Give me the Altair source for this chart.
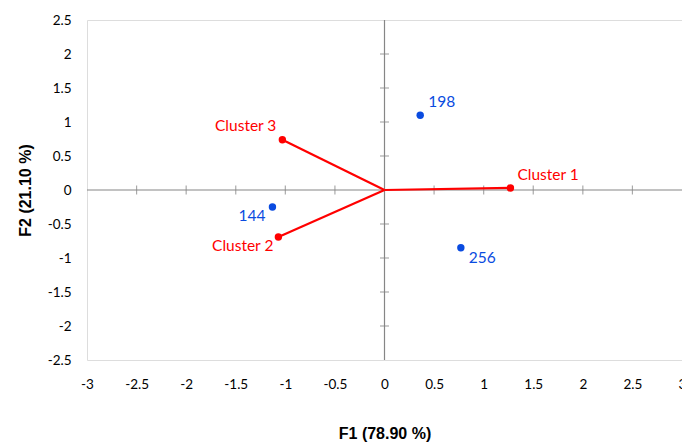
import altair as alt
import pandas as pd

# Observations (blue points)
obs_names = ["198", "256", "144"]
obs_x = [0.36, 0.77, -1.13]
obs_y = [1.10, -0.85, -0.25]

# Cluster vectors (red)
clu_names = ["Cluster 1", "Cluster 2", "Cluster 3"]
clu_x = [1.27, -1.07, -1.03]
clu_y = [0.03, -0.69, 0.74]

# Tick values
x_ticks = [-3, -2.5, -2, -1.5, -1, -0.5, 0, 0.5, 1, 1.5, 2, 2.5, 3]
y_ticks = [-2.5, -2, -1.5, -1, -0.5, 0, 0.5, 1, 1.5, 2, 2.5]

RED = "#ff0000"
BLUE = "#0a4be0"
GRAY = "#868686"
FONT = "Lato"

obs = pd.DataFrame({"name": obs_names, "x": obs_x, "y": obs_y})
clu = pd.DataFrame({"name": clu_names, "x": clu_x, "y": clu_y, "x0": 0.0, "y0": 0.0})
xt = pd.DataFrame({"x": [t for t in x_ticks if t not in (-3, 3, 0)], "y": 0.0})
yt = pd.DataFrame({"y": [t for t in y_ticks if t not in (-2.5, 2.5, 0)], "x": 0.0})

xscale = alt.Scale(domain=[-3, 3], nice=False, zero=False)
yscale = alt.Scale(domain=[-2.5, 2.5], nice=False, zero=False)

xaxis = alt.Axis(values=x_ticks, title="F1 (78.90 %)", grid=False, domain=False, ticks=False,
                 labelExpr="datum.value + ''",
                 labelPadding=17, labelFontSize=13.5, labelFont=FONT, labelColor="#000",
                 titleFont="Liberation Sans", titleFontSize=16, titleFontWeight="bold",
                 titleColor="#000", titlePadding=35, labelFlush=False, labelOverlap=False)
yaxis = alt.Axis(values=y_ticks, title="F2 (21.10 %)", grid=False, domain=False, ticks=False,
                 labelExpr="datum.value + ''",
                 labelPadding=16, labelFontSize=13.5, labelFont=FONT, labelColor="#000",
                 titleFont="Liberation Sans", titleFontSize=16, titleFontWeight="bold",
                 titleColor="#000", titlePadding=14, labelFlush=False, labelOverlap=False)

base_x = alt.X("x:Q", scale=xscale, axis=xaxis)
base_y = alt.Y("y:Q", scale=yscale, axis=yaxis)

# zero lines
hline = alt.Chart(pd.DataFrame({"x": [-3.0], "x2": [3.0], "y": [0.0]})).mark_rule(color=GRAY, strokeWidth=1.2).encode(
    x=base_x, x2="x2:Q", y=base_y)
vline = alt.Chart(pd.DataFrame({"y": [-2.5], "y2": [2.5], "x": [0.0]})).mark_rule(color=GRAY, strokeWidth=1.2).encode(
    x=base_x, y=base_y, y2="y2:Q")

xticks_m = alt.Chart(xt).mark_tick(orient="vertical", size=9, thickness=1.2, color=GRAY).encode(x=base_x, y=base_y)
yticks_m = alt.Chart(yt).mark_tick(orient="horizontal", size=9, thickness=1.2, color=GRAY).encode(x=base_x, y=base_y)

rules = alt.Chart(clu).mark_rule(color=RED, strokeWidth=2.2).encode(
    x=base_x, y=base_y, x2="x0:Q", y2="y0:Q")
clu_pts = alt.Chart(clu).mark_circle(color=RED, size=55, opacity=1).encode(x=base_x, y=base_y)
obs_pts = alt.Chart(obs).mark_circle(color=BLUE, size=55, opacity=1).encode(x=base_x, y=base_y)

def label(df, names, color, align, dx, dy):
    return alt.Chart(df).transform_filter(
        alt.FieldOneOfPredicate(field="name", oneOf=names)
    ).mark_text(color=color, align=align, dx=dx, dy=dy, font=FONT, fontSize=15.5).encode(
        x=base_x, y=base_y, text="name:N")

labels = [
    label(obs, ["198"], BLUE, "left", 8, -13),
    label(obs, ["256"], BLUE, "left", 8, 10),
    label(obs, ["144"], BLUE, "right", -7, 9),
    label(clu, ["Cluster 1"], RED, "left", 7, -13),
    label(clu, ["Cluster 2"], RED, "right", -5, 9),
    label(clu, ["Cluster 3"], RED, "right", -6, -14),
]

chart = alt.layer(hline, vline, xticks_m, yticks_m, rules, clu_pts, obs_pts, *labels).properties(
    width=595, height=340,
    autosize=alt.AutoSizeParams(type="none"),
    padding={"left": 79, "top": 12, "right": 0, "bottom": 84},
).configure_view(stroke=GRAY, strokeWidth=1.4).configure(background="white")

chart.save("out.html", embed_options={"renderer": "svg", "actions": False})
